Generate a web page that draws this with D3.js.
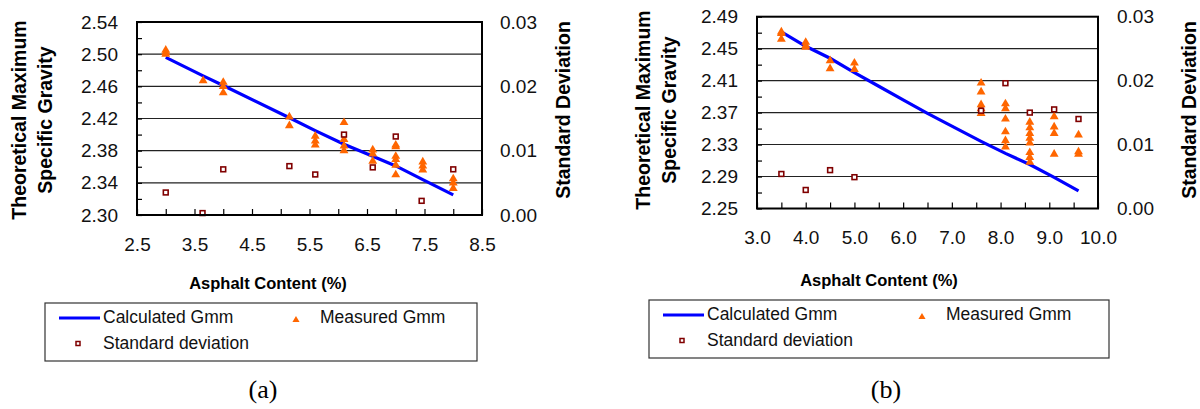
<!DOCTYPE html>
<html>
<head>
<meta charset="utf-8">
<script src="https://cdn.jsdelivr.net/npm/d3@7.9.0/dist/d3.min.js"></script>
<style>
  body { margin: 0; background: #fff; }
  svg { display: block; font-family: Arial, "Liberation Sans", sans-serif; }
</style>
</head>
<body>
<svg id="chart" width="1200" height="409"></svg>
<script>
// ---- panel (a) ----
const aCalcX = [3.0, 3.65, 4.0, 5.15, 5.6, 6.1, 6.6, 7.0, 7.47, 8.0];
const aCalcGmm = [2.496, 2.473, 2.461, 2.421, 2.405, 2.388, 2.373, 2.361, 2.344, 2.325];
const aMeasX = [3.0, 3.0, 3.0, 3.65, 4.0, 4.0, 4.0, 5.15, 5.15, 5.6, 5.6, 5.6,
  6.1, 6.1, 6.1, 6.1, 6.6, 6.6, 6.6, 7.0, 7.0, 7.0, 7.0, 7.0, 7.0,
  7.47, 7.47, 7.47, 8.0, 8.0, 8.0];
const aMeasGmm = [2.505, 2.502, 2.500, 2.467, 2.465, 2.460, 2.452, 2.422, 2.411, 2.398, 2.392, 2.387,
  2.415, 2.394, 2.386, 2.380, 2.381, 2.376, 2.367, 2.387, 2.385, 2.373, 2.369, 2.362, 2.350,
  2.366, 2.361, 2.356, 2.345, 2.340, 2.333];
const aStdX = [3.0, 3.64, 4.0, 5.15, 5.6, 6.1, 6.6, 7.0, 7.45, 8.0];
const aStdDev = [0.0035, 0.0003, 0.0071, 0.0076, 0.0063, 0.0125, 0.0074, 0.0122, 0.0022, 0.0071];
const aXTicks = [2.5, 3.5, 4.5, 5.5, 6.5, 7.5, 8.5];
const aYTicks = [2.30, 2.34, 2.38, 2.42, 2.46, 2.50, 2.54];

// ---- panel (b) ----
const bCalcX = [3.5, 4.0, 4.5, 5.0, 5.5, 6.0, 6.5, 7.0, 7.6, 8.1, 8.6, 9.1, 9.6];
const bCalcGmm = [2.471, 2.453, 2.438, 2.420, 2.403, 2.386, 2.369, 2.353, 2.334, 2.319, 2.305, 2.289, 2.272];
const bMeasX = [3.5, 3.5, 3.5, 4.0, 4.0, 4.0, 4.5, 4.5, 5.0, 5.0,
  7.6, 7.6, 7.6, 7.6, 7.6, 8.1, 8.1, 8.1, 8.1, 8.1, 8.1,
  8.6, 8.6, 8.6, 8.6, 8.6, 8.6, 8.6, 8.6, 9.1, 9.1, 9.1, 9.1, 9.6, 9.6, 9.6];
const bMeasGmm = [2.471, 2.469, 2.462, 2.458, 2.454, 2.452, 2.435, 2.425, 2.432, 2.424,
  2.407, 2.396, 2.380, 2.375, 2.369, 2.381, 2.375, 2.362, 2.346, 2.335, 2.327,
  2.358, 2.351, 2.344, 2.338, 2.332, 2.320, 2.314, 2.308, 2.365, 2.352, 2.344, 2.318, 2.342, 2.321, 2.318];
const bStdX = [3.5, 4.0, 4.5, 5.0, 7.6, 8.1, 8.6, 9.1, 9.6];
const bStdDev = [0.0054, 0.0029, 0.0060, 0.0049, 0.0153, 0.0196, 0.0150, 0.0155, 0.0140];
const bXTicks = [3, 4, 5, 6, 7, 8, 9, 10];
const bYTicks = [2.25, 2.29, 2.33, 2.37, 2.41, 2.45, 2.49];

const stdTicks = [0, 0.01, 0.02, 0.03];

const svg = d3.select('#chart');
const BLUE = '#0000ff', ORANGE = '#ff6600', DARKRED = '#800000';

function drawPanel(c) {
  const x = d3.scaleLinear().domain(c.xDom).range([c.left, c.right]);
  const y = d3.scaleLinear().domain(c.yDom).range([c.bottom, c.top]);
  const s = d3.scaleLinear().domain([0, 0.03]).range([c.bottom, c.top]);
  const g = svg.append('g');

  // gridlines
  g.append('g').selectAll('line')
    .data(c.yTicks.slice(1, -1))
    .join('line')
    .attr('x1', c.left).attr('x2', c.right)
    .attr('y1', d => y(d)).attr('y2', d => y(d))
    .attr('stroke', '#222').attr('stroke-width', 1.1);

  // inner minor ticks
  const xMinor = d3.range(c.xDom[0], c.xDom[1] + 0.01, 0.5);
  g.append('g').attr('transform', `translate(0,${c.bottom})`)
    .call(d3.axisBottom(x).tickValues(xMinor).tickSize(-6).tickSizeOuter(0).tickFormat(''))
    .call(a => a.select('.domain').remove())
    .selectAll('line').attr('stroke', '#000').attr('stroke-width', 1.2);
  const yMinor = d3.range(c.yDom[0], c.yDom[1] + 0.001, 0.02);
  g.append('g').attr('transform', `translate(${c.left},0)`)
    .call(d3.axisLeft(y).tickValues(yMinor).tickSize(-5).tickSizeOuter(0).tickFormat(''))
    .call(a => a.select('.domain').remove())
    .selectAll('line').attr('stroke', '#000').attr('stroke-width', 1.2);

  // calculated Gmm line
  const line = d3.line().x(d => x(d[0])).y(d => y(d[1]));
  g.append('path')
    .datum(d3.zip(c.calcX, c.calcGmm))
    .attr('d', line)
    .attr('fill', 'none').attr('stroke', BLUE).attr('stroke-width', 3.2);

  // measured Gmm triangles
  const tri = d3.symbol(d3.symbolTriangle).size(34);
  g.append('g').selectAll('path')
    .data(d3.zip(c.measX, c.measGmm))
    .join('path')
    .attr('d', tri)
    .attr('transform', d => `translate(${x(d[0])},${y(d[1])})`)
    .attr('fill', ORANGE);

  // standard deviation squares
  g.append('g').selectAll('rect')
    .data(d3.zip(c.stdX, c.std))
    .join('rect')
    .attr('x', d => x(d[0]) - 2.4).attr('y', d => s(d[1]) - 2.4)
    .attr('width', 4.8).attr('height', 4.8)
    .attr('fill', '#fff').attr('stroke', DARKRED).attr('stroke-width', 1.6);

  // frame
  g.append('rect')
    .attr('x', c.left).attr('y', c.top)
    .attr('width', c.right - c.left).attr('height', c.bottom - c.top)
    .attr('fill', 'none').attr('stroke', '#000').attr('stroke-width', 2);

  // tick labels
  const styleAxis = a => {
    a.select('.domain').remove();
    a.selectAll('text').attr('font-size', 19).attr('font-family', 'Arial, "Liberation Sans", sans-serif').attr('fill', '#111');
  };
  g.append('g').attr('transform', `translate(${c.left},0)`)
    .call(d3.axisLeft(y).tickValues(c.yTicks).tickFormat(d3.format('.2f')).tickSize(0).tickPadding(19))
    .call(styleAxis);
  g.append('g').attr('transform', `translate(${c.right},0)`)
    .call(d3.axisRight(s).tickValues(stdTicks).tickFormat(d3.format('.2f')).tickSize(0).tickPadding(c.rPad))
    .call(styleAxis);
  g.append('g').attr('transform', `translate(0,${c.bottom})`)
    .call(d3.axisBottom(x).tickValues(c.xTicks).tickFormat(d3.format('.1f')).tickSize(0).tickPadding(c.bPad))
    .call(styleAxis);

  // axis titles
  g.append('text')
    .attr('x', c.xTitle[0]).attr('y', c.xTitle[1])
    .attr('text-anchor', 'middle').attr('font-weight', 'bold').attr('font-size', 16.5)
    .text('Asphalt Content (%)');
  const yt = g.append('text')
    .attr('transform', `translate(${c.yTitle[0]},${c.yTitle[1]}) rotate(-90)`)
    .attr('text-anchor', 'middle').attr('font-weight', 'bold').attr('font-size', 19.5);
  yt.append('tspan').attr('x', 0).attr('dy', '0.35em').text('Theoretical Maximum');
  yt.append('tspan').attr('x', 0).attr('dy', c.yTitleGap).text('Specific Gravity');
  g.append('text')
    .attr('transform', `translate(${c.sTitle[0]},${c.sTitle[1]}) rotate(-90)`)
    .attr('dy', '0.35em')
    .attr('text-anchor', 'middle').attr('font-weight', 'bold').attr('font-size', 19.5)
    .text('Standard Deviation');

  // legend
  const L = c.legend;
  const lg = g.append('g');
  lg.append('rect')
    .attr('x', L.x).attr('y', L.y).attr('width', L.w).attr('height', L.h)
    .attr('fill', '#fff').attr('stroke', '#333').attr('stroke-width', 1.2);
  lg.append('line')
    .attr('x1', L.x + 14).attr('x2', L.x + 55)
    .attr('y1', L.y + 15).attr('y2', L.y + 15)
    .attr('stroke', BLUE).attr('stroke-width', 3);
  lg.append('path')
    .attr('d', d3.symbol(d3.symbolTriangle).size(22))
    .attr('transform', `translate(${L.x + L.triX},${L.y + 17})`)
    .attr('fill', ORANGE);
  lg.append('rect')
    .attr('x', L.x + 31).attr('y', L.y + 38.5).attr('width', 4).attr('height', 4)
    .attr('fill', '#fff').attr('stroke', DARKRED).attr('stroke-width', 1.5);
  const lt = [
    ['Calculated Gmm', 58, 20],
    ['Measured Gmm', L.triX + 24, 20],
    ['Standard deviation', 58, 46]
  ];
  lg.selectAll('text.lt').data(lt).join('text')
    .attr('class', 'lt')
    .attr('x', d => L.x + d[1]).attr('y', d => L.y + d[2])
    .attr('font-size', 17.5).attr('fill', '#111')
    .text(d => d[0]);

  // panel caption
  g.append('text')
    .attr('x', c.cap[0]).attr('y', c.cap[1])
    .attr('text-anchor', 'middle')
    .attr('font-family', '"Liberation Serif", "Times New Roman", serif')
    .attr('font-size', 26)
    .text(c.capText);
}

drawPanel({
  calcX: aCalcX, calcGmm: aCalcGmm, measX: aMeasX, measGmm: aMeasGmm, stdX: aStdX, std: aStdDev,
  xTicks: aXTicks, yTicks: aYTicks,
  xDom: [2.5, 8.5], yDom: [2.30, 2.54],
  left: 137, right: 482, top: 22, bottom: 215,
  rPad: 18, bPad: 23,
  xTitle: [268, 289], yTitle: [19, 120], yTitleGap: 26, sTitle: [563, 110],
  legend: { x: 45, y: 303, w: 432, h: 58, triX: 251 },
  cap: [263, 398], capText: '(a)'
});

drawPanel({
  calcX: bCalcX, calcGmm: bCalcGmm, measX: bMeasX, measGmm: bMeasGmm, stdX: bStdX, std: bStdDev,
  xTicks: bXTicks, yTicks: bYTicks,
  xDom: [3, 10], yDom: [2.25, 2.49],
  left: 757, right: 1098, top: 16.7, bottom: 208.5,
  rPad: 19, bPad: 22,
  xTitle: [879, 286], yTitle: [643, 110], yTitleGap: 26, sTitle: [1189, 110],
  legend: { x: 649, y: 300, w: 460, h: 58, triX: 273 },
  cap: [886, 398], capText: '(b)'
});
</script>
</body>
</html>
